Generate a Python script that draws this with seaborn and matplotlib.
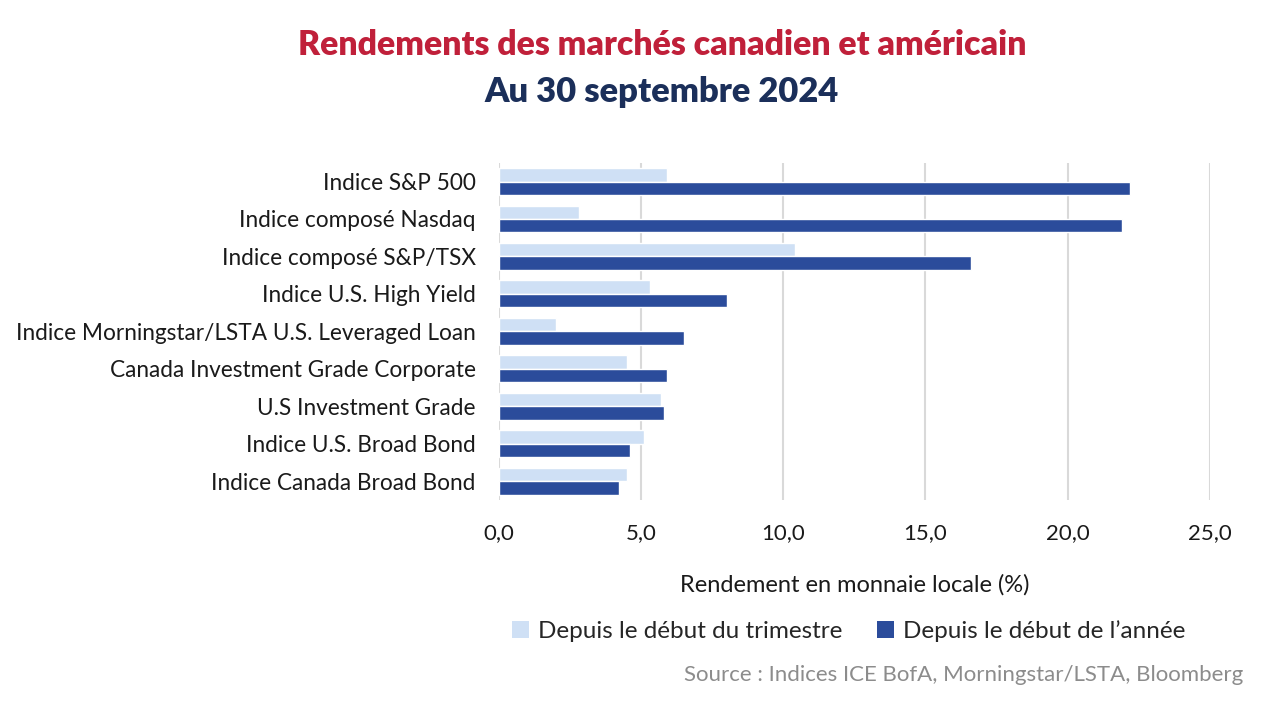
import matplotlib
matplotlib.use("Agg")
import matplotlib.pyplot as plt
import seaborn as sns
import pandas as pd
from matplotlib.ticker import FuncFormatter
from matplotlib.patches import Patch

categories = [
    "Indice S&P 500",
    "Indice composé Nasdaq",
    "Indice composé S&P/TSX",
    "Indice U.S. High Yield",
    "Indice Morningstar/LSTA U.S. Leveraged Loan",
    "Canada Investment Grade Corporate",
    "U.S Investment Grade",
    "Indice U.S. Broad Bond",
    "Indice Canada Broad Bond",
]
qtd = [5.9, 2.8, 10.4, 5.3, 2.0, 4.5, 5.7, 5.1, 4.5]
ytd = [22.2, 21.9, 16.6, 8.0, 6.5, 5.9, 5.8, 4.6, 4.2]
series_names = ["Depuis le début du trimestre", "Depuis le début de l’année"]
xticks = [0, 5, 10, 15, 20, 25]

df = pd.DataFrame({
    "cat": categories * 2,
    "val": qtd + ytd,
    "serie": [series_names[0]] * len(categories) + [series_names[1]] * len(categories),
})

sns.set_theme(style="white")
plt.rcParams["font.family"] = ["Lato", "DejaVu Sans"]

light = "#cfe0f5"
dark = "#2b4c9b"

fig = plt.figure(figsize=(12.8, 7.11), dpi=100)
ax = fig.add_axes([0.390, 0.297, 0.555, 0.474])

sns.barplot(data=df, y="cat", x="val", hue="serie", order=categories,
            hue_order=series_names, palette=[light, dark], orient="h",
            width=0.72, ax=ax, legend=False, saturation=1)

ax.set_xlim(0, 25)
ax.set_xticks(xticks)
ax.xaxis.set_major_formatter(FuncFormatter(lambda v, p: f"{v:.1f}".replace(".", ",")))
ax.grid(axis="x", color="#d9d9d9", linewidth=1.5)
ax.set_axisbelow(True)
for s in ax.spines.values():
    s.set_visible(False)
ax.tick_params(axis="both", length=0, colors="#1a1a1a")
ax.tick_params(axis="x", pad=17, labelsize=16)
ax.tick_params(axis="y", pad=17, labelsize=16.3)
ax.set_ylabel("")
ax.set_xlabel("Rendement en monnaie locale (%)", fontsize=17, color="#1a1a1a", labelpad=22)

fig.text(0.517, 0.937, "Rendements des marchés canadien et américain", ha="center",
         va="center", fontsize=24.3, fontweight="heavy", color="#c0203a")
fig.text(0.517, 0.871, "Au 30 septembre 2024", ha="center", va="center",
         fontsize=24.8, fontweight="heavy", color="#1b2f5a")

handles = [Patch(facecolor=light, edgecolor="none"), Patch(facecolor=dark, edgecolor="none")]
fig.legend(handles, series_names, loc="center", bbox_to_anchor=(0.663, 0.113),
           ncol=2, frameon=False, fontsize=17.5, handlelength=0.7, handleheight=0.7,
           handletextpad=0.4, columnspacing=1.4)

fig.text(0.971, 0.05, "Source : Indices ICE BofA, Morningstar/LSTA, Bloomberg",
         ha="right", va="center", fontsize=16, color="#8c8c8c")

fig.savefig("out.png", dpi=100)
